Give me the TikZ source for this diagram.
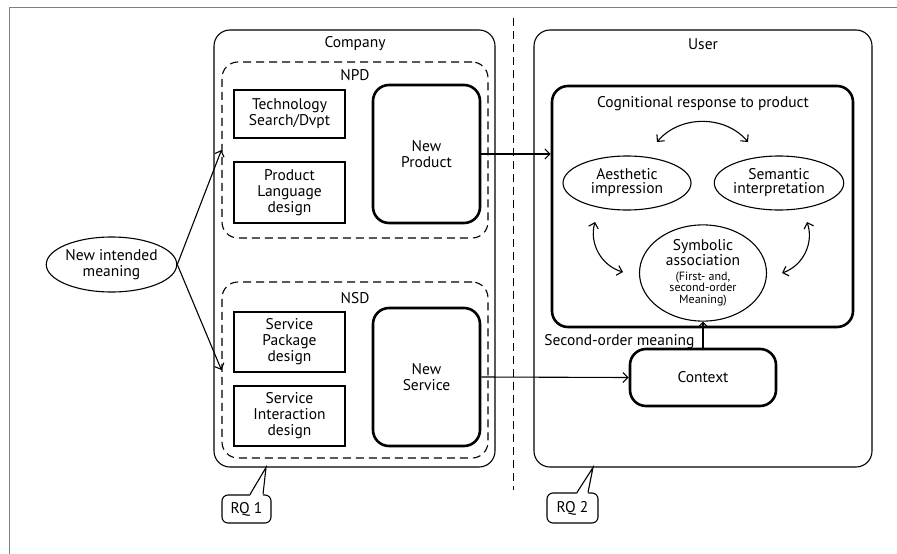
\documentclass[tikz,border=0pt]{standalone}
\usepackage{fontspec}
\setmainfont{PT Sans}
\usetikzlibrary{shapes.geometric,arrows.meta,calc}

\begin{document}
\begin{tikzpicture}[x=1pt,y=-1pt,
    font=\fontsize{15.5}{16}\selectfont,
    thinline/.style={line width=1.1pt},
    groupbox/.style={draw, thinline, rounded corners=16pt},
    dashbox/.style={draw, thinline, dash pattern=on 8pt off 5pt, rounded corners=16pt},
    plainbox/.style={draw, line width=2.6pt, align=center, minimum width=111pt},
    roundbox/.style={draw, line width=2.6pt, rounded corners=16pt, align=center},
    ovalnode/.style={ellipse, draw, thinline, align=center, inner sep=0pt},
    callout/.style={draw, thinline, rounded corners=6pt, inner sep=2pt}]

    \useasboundingbox (0,0) rectangle (897,554);
    \draw[gray, line width=1.6pt] (9.5,554) -- (9.5,7.5) -- (897,7.5);

    % company side
    \node[groupbox, minimum width=281pt, minimum height=437pt] (company) at (354.5,248.5) {};
    \node (companylbl) at (355,44) {Company};
    \node[dashbox, minimum width=266pt, minimum height=176pt] (npd) at (355,150) {};
    \node (npdlbl) at (355,75) {NPD};
    \node[plainbox, minimum height=48pt] (tech) at (289.5,114) {Technology\\Search/Dvpt};
    \node[plainbox, minimum height=61pt] (pld) at (289.5,192.5) {Product\\Language\\design};
    \node[roundbox, minimum width=107pt, minimum height=138pt] (newprod) at (426.5,154) {New\\Product};
    \node[dashbox, minimum width=266pt, minimum height=176pt] (nsd) at (355,370) {};
    \node (nsdlbl) at (355,298) {NSD};
    \node[plainbox, minimum height=60pt] (spd) at (289.5,342) {Service\\Package\\design};
    \node[plainbox, minimum height=60pt] (sid) at (289.5,416) {Service\\Interaction\\design};
    \node[roundbox, minimum width=107pt, minimum height=138pt] (newserv) at (426.5,377) {New\\Service};

    % user side
    \draw[line width=0.9pt, dash pattern=on 8pt off 5pt] (513,18) -- (513,490);
    \node[groupbox, minimum width=338pt, minimum height=437pt] (user) at (703,248.5) {};
    \node (userlbl) at (703,44) {User};
    \node[roundbox, minimum width=301pt, minimum height=241pt] (cog) at (702.5,206.5) {};
    \node (coglbl) at (703,104) {Cognitional response to product};
    \node[ovalnode, minimum width=128pt, minimum height=54pt, font=\fontsize{15.5}{14}\selectfont] (aest) at (627,183) {Aesthetic\\impression};
    \node[ovalnode, minimum width=128pt, minimum height=54pt, font=\fontsize{15.5}{14}\selectfont] (sem) at (779,183) {Semantic\\interpretation};
    \node[ovalnode, minimum width=127pt, minimum height=87pt, font=\fontsize{15.5}{14}\selectfont] (symb) at (703,273)
        {Symbolic\\association\\[1pt]{\fontsize{12}{11}\selectfont\begin{tabular}[t]{@{}c@{}}(First- and,\\second-order\\Meaning)\end{tabular}}};
    \node[roundbox, minimum width=146pt, minimum height=57pt] (context) at (703,377.5) {Context};
    \node[anchor=base east] (somlbl) at (698,345) {Second-order meaning};

    \node[ovalnode, minimum width=127pt, minimum height=55pt] (intended) at (111.5,264.5) {New intended\\meaning};

    % research questions
    \node[callout, minimum width=49pt, minimum height=28pt] (rq1) at (246.5,509) {RQ 1};
    \node[callout, minimum width=51pt, minimum height=30pt] (rq2) at (572.5,508) {RQ 2};
    \coordinate (rq1tip) at (266,467.5);
    \coordinate (rq2tip) at (593,467.5);

    \tikzset{flow/.style={thinline, -{Straight Barb[length=5pt,width=10pt]}}}
    \tikzset{both/.style={thinline, {Straight Barb[length=5pt,width=10pt]}-{Straight Barb[length=5pt,width=10pt]}}}

    \draw[flow] (intended.east) -- (npd.west);
    \draw[flow] (intended.east) -- (nsd.west);
    \draw[flow] (newprod.east) -- (newprod.east -| cog.west);
    \draw[flow] (newserv.east) -- (context.west);
    \draw[flow] (context.north) -- (symb.south);

    \coordinate (ta) at (657,142);
    \coordinate (tb) at (748,142);
    \coordinate (la) at (595,222);
    \coordinate (lb) at (623,272);
    \coordinate (ra) at (807,222);
    \coordinate (rb) at (782,273);
    \draw[both] (ta) to[bend left=50] (tb);
    \draw[both] (la) to[bend right=45] (lb);
    \draw[both] (ra) to[bend left=45] (rb);

    \fill[white] ($(rq1.north)+(3.5,1.5)$) -- (rq1tip) -- ($(rq1.north)+(16.5,1.5)$) -- cycle;
    \draw[thinline] ($(rq1.north)+(3.5,0)$) -- (rq1tip) -- ($(rq1.north)+(16.5,0)$);
    \fill[white] ($(rq2.north)+(4.5,1.5)$) -- (rq2tip) -- ($(rq2.north)+(15.5,1.5)$) -- cycle;
    \draw[thinline] ($(rq2.north)+(4.5,0)$) -- (rq2tip) -- ($(rq2.north)+(15.5,0)$);

\end{tikzpicture}
\end{document}
